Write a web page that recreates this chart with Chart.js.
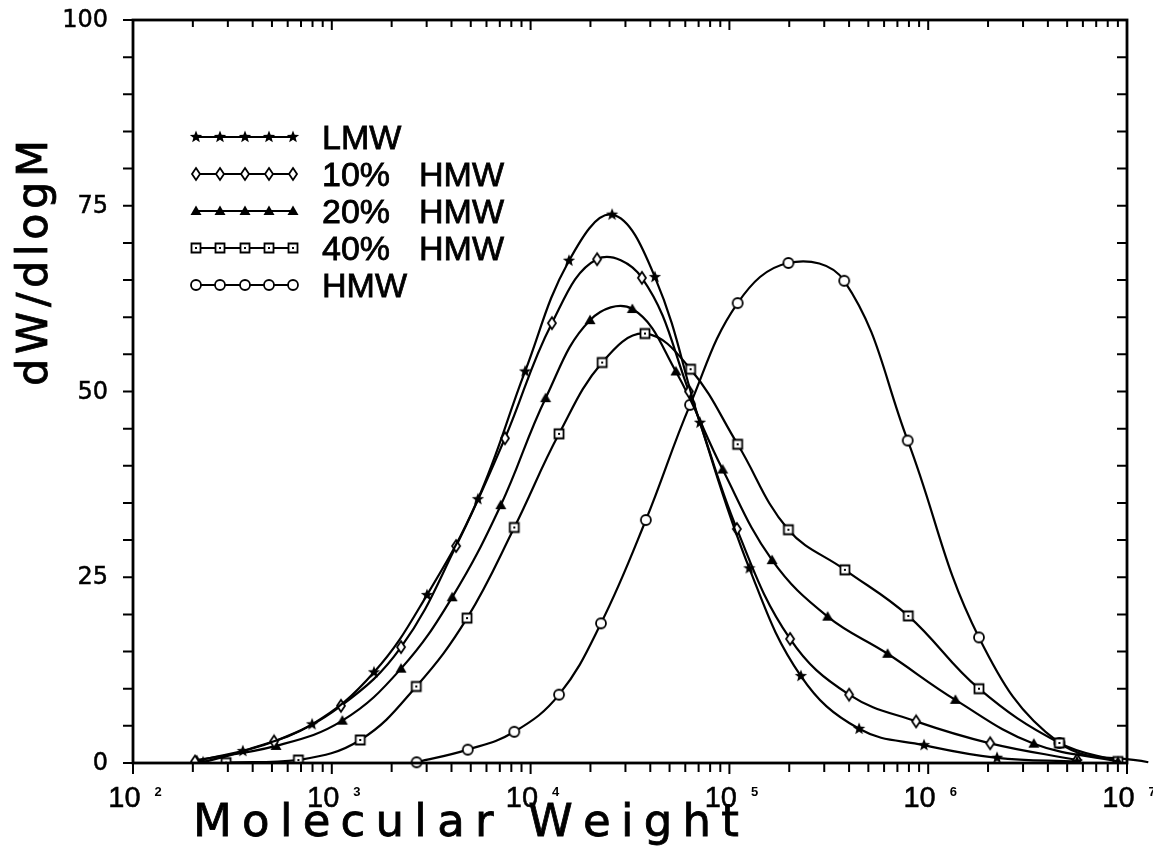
<!DOCTYPE html>
<html>
<head>
<meta charset="utf-8">
<script src="https://cdn.jsdelivr.net/npm/chart.js@4.4.0/dist/chart.umd.min.js"></script>
<style>
  html, body { margin: 0; padding: 0; background: #fff; }
</style>
</head>
<body>
<canvas id="chart" width="1153" height="851"></canvas>
<script>
// series names (legend)
const seriesNames = ['LMW', '10%  HMW', '20%  HMW', '40%  HMW', 'HMW'];

// values: molecular weight and dW/dlogM at each marker
const lmwM = [225, 357, 796, 1630, 3010, 5430, 9380, 15600, 25700, 42200, 71100, 126000, 229000, 449000, 953000, 2220000, 5600000];
const lmwY = [0.1, 1.6, 5.2, 12.2, 22.6, 35.5, 52.7, 67.6, 73.8, 65.4, 45.8, 26.2, 11.7, 4.6, 2.4, 0.7, 0.2];

const hmw10M = [205, 512, 1112, 2230, 4220, 7430, 12800, 21600, 36300, 62600, 109000, 202000, 400000, 869000, 2050000, 5600000];
const hmw10Y = [0.2, 2.9, 7.7, 15.6, 29.2, 43.7, 59.2, 67.8, 65.3, 50.0, 31.5, 16.7, 9.2, 5.6, 2.65, 0.4];

const hmw20M = [209, 524, 1130, 2230, 4030, 7080, 11900, 19900, 32500, 53800, 92500, 164000, 312000, 625000, 1370000, 3400000, 9000000];
const hmw20Y = [0.4, 2.3, 5.7, 12.7, 22.3, 34.7, 49.1, 59.6, 61.1, 52.7, 39.5, 27.3, 19.7, 14.7, 8.5, 2.6, 0.2];

const hmw40M = [294, 679, 1390, 2660, 4790, 8280, 13900, 22900, 37600, 63800, 110000, 198000, 381000, 794000, 1800000, 4570000, 9000000];
const hmw40Y = [0.05, 0.4, 3.1, 10.3, 19.5, 31.7, 44.3, 53.9, 57.8, 53.0, 42.9, 31.4, 26.0, 19.8, 10.0, 2.7, 0.2];

const hmwM = [2670, 4830, 8280, 13900, 22600, 38000, 63400, 110000, 198000, 378000, 789000, 1800000, 4570000, 12800000];
const hmwY = [0.1, 1.8, 4.2, 9.2, 18.8, 32.7, 48.2, 61.9, 67.3, 64.9, 43.4, 16.9, 2.7, 0.1];

// axis tick values
const xDecades = [1e2, 1e3, 1e4, 1e5, 1e6, 1e7];
const yLabelTicks = [0, 25, 50, 75, 100];

function pairs(xs, ys) {
  return xs.map((x, i) => ({ x: x, y: ys[i] }));
}

function makeMarker(kind) {
  const s = 16, m = s / 2;
  const c = document.createElement('canvas');
  c.width = c.height = s;
  const g = c.getContext('2d');
  g.strokeStyle = '#000';
  g.fillStyle = '#000';
  g.lineWidth = 1.8;
  g.beginPath();
  if (kind === 'star') {
    for (let i = 0; i < 10; i++) {
      const a = -Math.PI / 2 + i * Math.PI / 5;
      const r = i % 2 ? 2.8 : 6.5;
      g.lineTo(m + r * Math.cos(a), m + r * Math.sin(a));
    }
    g.closePath();
    g.fill();
  } else if (kind === 'diamond') {
    g.moveTo(m, m - 6);
    g.lineTo(m + 4, m);
    g.lineTo(m, m + 6);
    g.lineTo(m - 4, m);
    g.closePath();
    g.fillStyle = '#fff';
    g.fill();
    g.stroke();
  } else if (kind === 'triangle') {
    g.moveTo(m, m - 5.5);
    g.lineTo(m + 5.5, m + 4);
    g.lineTo(m - 5.5, m + 4);
    g.closePath();
    g.fill();
  } else if (kind === 'square') {
    g.rect(m - 4.5, m - 4.5, 9, 9);
    g.fillStyle = '#fff';
    g.fill();
    g.stroke();
    g.fillStyle = '#000';
    g.fillRect(m - 1, m - 1, 2, 2);
  } else {
    g.arc(m, m, 5, 0, Math.PI * 2);
    g.fillStyle = '#fff';
    g.fill();
    g.stroke();
  }
  return c;
}

const markers = ['star', 'diamond', 'triangle', 'square', 'circle'].map(makeMarker);
const seriesData = [pairs(lmwM, lmwY), pairs(hmw10M, hmw10Y), pairs(hmw20M, hmw20Y), pairs(hmw40M, hmw40Y), pairs(hmwM, hmwY)];

const datasets = seriesData.map((d, i) => ({
  label: seriesNames[i],
  data: d,
  borderColor: '#000',
  backgroundColor: '#000',
  borderWidth: 2.2,
  pointStyle: markers[i],
  pointRadius: 6,
  tension: 0.4,
  fill: false,
  clip: i === 4 ? false : undefined
}));

const SANS = '"Liberation Sans", Arial, sans-serif';
const WIDE = '"DejaVu Sans", Verdana, sans-serif';

// text with a thin outline so it reads as heavy as the scanned figure
function heavyText(ctx, text, x, y, w) {
  ctx.lineWidth = w;
  ctx.strokeStyle = '#000';
  ctx.strokeText(text, x, y);
  ctx.fillText(text, x, y);
}

// frame, ticks, axis labels, titles and the legend
const decorations = {
  id: 'decorations',
  afterDatasetsDraw(chart) {
    const ctx = chart.ctx;
    const a = chart.chartArea;
    const xs = chart.scales.x, ys = chart.scales.y;
    ctx.save();
    ctx.strokeStyle = '#000';
    ctx.lineWidth = 2.8;
    ctx.strokeRect(a.left, a.top, a.right - a.left, a.bottom - a.top);

    ctx.lineWidth = 2;
    ctx.beginPath();
    for (let e = 2; e < 7; e++) {
      for (let k = 1; k <= 10; k++) {
        const v = k * Math.pow(10, e);
        const px = xs.getPixelForValue(v);
        const major = k === 1 || k === 10;
        ctx.moveTo(px, a.bottom);
        ctx.lineTo(px, a.bottom + (major ? 11 : 9));
        ctx.moveTo(px, a.top);
        ctx.lineTo(px, a.top + (major ? 10 : 7));
      }
    }
    for (let v = 0; v <= 100; v += 5) {
      const py = ys.getPixelForValue(v);
      ctx.moveTo(a.left, py);
      ctx.lineTo(a.left - 10, py);
      ctx.moveTo(a.right, py);
      ctx.lineTo(a.right - 10, py);
    }
    ctx.stroke();
    ctx.restore();
  },
  afterDraw(chart) {
    const ctx = chart.ctx;
    const a = chart.chartArea;
    const xs = chart.scales.x, ys = chart.scales.y;
    ctx.save();
    ctx.fillStyle = '#000';

    // y tick labels
    ctx.font = '24px ' + WIDE;
    ctx.textAlign = 'right';
    ctx.textBaseline = 'middle';
    yLabelTicks.forEach(v => {
      heavyText(ctx, String(v), a.left - 25, ys.getPixelForValue(v) + 1, 0.5);
    });

    // x tick labels: 10 with a raised exponent
    ctx.textBaseline = 'alphabetic';
    ctx.textAlign = 'left';
    xDecades.forEach(v => {
      const px = xs.getPixelForValue(v);
      const exp = String(Math.round(Math.log10(v)));
      ctx.font = '29px ' + SANS;
      const w1 = ctx.measureText('10').width;
      ctx.font = 'bold 13px ' + SANS;
      const w2 = ctx.measureText(exp).width;
      const gap = 14;
      const x0 = px - (w1 + gap + w2) / 2 + 2;
      ctx.font = '29px ' + SANS;
      heavyText(ctx, '10', x0, 807, 0.5);
      ctx.font = 'bold 13px ' + SANS;
      ctx.fillText(exp, x0 + w1 + gap, 796);
    });

    // x title, spread to the width it has in the figure
    drawSpread(ctx, 'Molecular Weight', '45px ' + WIDE, 193, 836, 546);

    // y title, rotated
    ctx.save();
    ctx.translate(47, 386);
    ctx.rotate(-Math.PI / 2);
    drawSpread(ctx, 'dW/dlogM', '43px ' + WIDE, 0, 0, 246);
    ctx.restore();

    // legend
    const rows = [137, 174, 211, 248, 285];
    const mx = [196, 220, 245, 269, 293];
    seriesNames.forEach((name, i) => {
      const y = rows[i];
      ctx.lineWidth = 2;
      ctx.strokeStyle = '#000';
      ctx.beginPath();
      ctx.moveTo(mx[0], y);
      ctx.lineTo(mx[4], y);
      ctx.stroke();
      mx.forEach(x => {
        const img = markers[i];
        ctx.drawImage(img, x - img.width / 2, y - img.height / 2);
      });
      ctx.font = '34px ' + SANS;
      ctx.textAlign = 'left';
      ctx.textBaseline = 'alphabetic';
      const parts = name.split('  ');
      heavyText(ctx, parts[0], 322, y + 12, 0.8);
      if (parts[1]) heavyText(ctx, parts[1], 419, y + 12, 0.8);
    });
    ctx.restore();
  }
};

function drawSpread(ctx, text, font, x, y, targetWidth) {
  ctx.font = font;
  ctx.textAlign = 'left';
  ctx.textBaseline = 'alphabetic';
  const chars = Array.from(text);
  const widths = chars.map(ch => ctx.measureText(ch).width);
  const total = widths.reduce((s, w) => s + w, 0);
  const extra = (targetWidth - total) / (chars.length - 1);
  let cx = x;
  chars.forEach((ch, i) => {
    heavyText(ctx, ch, cx, y, 0.8);
    cx += widths[i] + extra;
  });
}

new Chart(document.getElementById('chart'), {
  type: 'line',
  data: { datasets: datasets },
  options: {
    responsive: false,
    animation: false,
    devicePixelRatio: 1,
    layout: { padding: { top: 20, right: 26, left: 0, bottom: 0 } },
    scales: {
      x: {
        type: 'logarithmic',
        min: 100,
        max: 1e7,
        grid: { display: false },
        border: { display: false },
        ticks: { display: false },
        afterFit: s => { s.height = 88; }
      },
      y: {
        type: 'linear',
        min: 0,
        max: 100,
        grid: { display: false },
        border: { display: false },
        ticks: { display: false },
        afterFit: s => { s.width = 133; }
      }
    },
    plugins: {
      legend: { display: false },
      tooltip: { enabled: false }
    }
  },
  plugins: [decorations]
});
</script>
</body>
</html>
